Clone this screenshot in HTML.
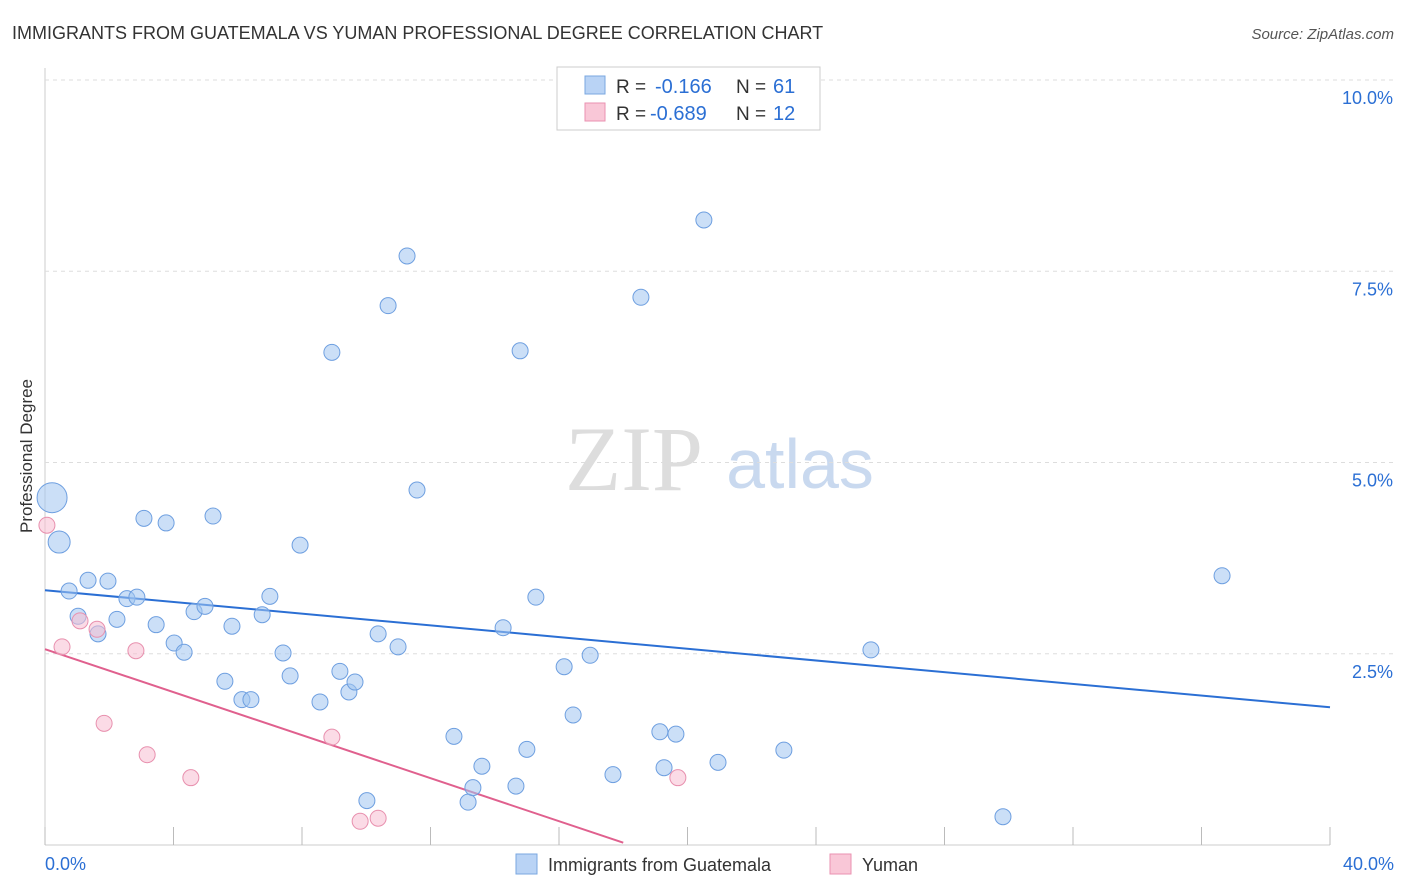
<!DOCTYPE html>
<html><head><meta charset="utf-8">
<style>
body{margin:0;background:#fff;font-family:"Liberation Sans",sans-serif;}
#wrap{position:relative;width:1406px;height:892px;overflow:hidden;}
</style></head>
<body><div id="wrap">
<svg id="svg" width="1406" height="892" xmlns="http://www.w3.org/2000/svg">
<text x="12" y="39" font-size="18" fill="#333">IMMIGRANTS FROM GUATEMALA VS YUMAN PROFESSIONAL DEGREE CORRELATION CHART</text>
<text x="1394" y="39" font-size="15" fill="#555" font-style="italic" text-anchor="end">Source: ZipAtlas.com</text>
<text x="32" y="456" font-size="17" fill="#333" text-anchor="middle" transform="rotate(-90 32 456)">Professional Degree</text>
<g>
<text x="634" y="490" font-size="92" fill="#ddd" font-family="Liberation Serif,serif" text-anchor="middle">ZIP</text>
<text x="800" y="488" font-size="70" fill="#c9d9ef" text-anchor="middle">atlas</text>
</g>
<g id="grid"></g><g id="ticks"></g><g id="lines"></g><g id="pts"></g>
<g>
<rect x="557" y="67" width="263" height="63" fill="#fff" stroke="#ccc"/>
<rect x="585" y="76" width="20" height="18" fill="#b9d3f5" stroke="#7aa7e0"/>
<rect x="585" y="103" width="20" height="18" fill="#f9c7d7" stroke="#ea92b0"/>
<text x="616" y="93" font-size="19" fill="#333">R =</text>
<text x="655" y="93" font-size="20" fill="#2b6fd4">-0.166</text>
<text x="736" y="93" font-size="19" fill="#333">N =</text>
<text x="773" y="93" font-size="20" fill="#2b6fd4">61</text>
<text x="616" y="120" font-size="19" fill="#333">R =</text>
<text x="650" y="120" font-size="20" fill="#2b6fd4">-0.689</text>
<text x="736" y="120" font-size="19" fill="#333">N =</text>
<text x="773" y="120" font-size="20" fill="#2b6fd4">12</text>
</g>
<g>
<rect x="516" y="854" width="21" height="20" fill="#b9d3f5" stroke="#7aa7e0"/>
<text x="548" y="871" font-size="18" fill="#333">Immigrants from Guatemala</text>
<rect x="830" y="854" width="21" height="20" fill="#f9c7d7" stroke="#ea92b0"/>
<text x="862" y="871" font-size="18" fill="#333">Yuman</text>
</g>
</svg>
<script>
const blueX=[0.22,0.44,0.75,1.34,1.96,1.03,1.65,2.24,2.55,2.86,3.08,3.77,3.46,4.02,4.33,4.64,4.98,5.23,5.60,5.82,6.13,6.41,6.76,7.00,7.41,7.63,7.94,8.56,8.93,9.18,9.46,9.65,10.02,10.37,10.68,10.99,11.27,11.58,12.73,13.17,13.32,13.60,14.26,14.66,14.79,15.00,15.28,16.16,16.44,16.97,17.68,18.55,19.14,19.27,19.64,20.51,20.95,23.00,25.71,29.82,36.64];
const blueY=[4.54,3.96,3.32,3.46,3.45,2.99,2.76,2.95,3.22,3.24,4.27,4.21,2.88,2.64,2.52,3.05,3.12,4.30,2.14,2.86,1.90,1.90,3.01,3.25,2.51,2.21,3.92,1.87,6.44,2.27,2.00,2.13,0.58,2.76,7.05,2.59,7.70,4.64,1.42,0.56,0.75,1.03,2.84,0.77,6.46,1.25,3.24,2.33,1.70,2.48,0.92,7.16,1.48,1.01,1.45,8.17,1.08,1.24,2.55,0.37,3.52];
const blueR=[15,11,8,8,8,8,8,8,8,8,8,8,8,8,8,8,8,8,8,8,8,8,8,8,8,8,8,8,8,8,8,8,8,8,8,8,8,8,8,8,8,8,8,8,8,8,8,8,8,8,8,8,8,8,8,8,8,8,8,8,8];
const pinkX=[0.06,0.53,1.09,1.62,1.84,2.83,3.18,4.54,8.93,9.81,10.37,19.70];
const pinkY=[4.18,2.59,2.93,2.82,1.59,2.54,1.18,0.88,1.41,0.31,0.35,0.88];
const blueTrend=[[0,3.33],[40,1.80]];
const pinkTrend=[[0,2.56],[18.0,0.03]];
const yTicks=[2.5,5.0,7.5,10.0];
const xTickVals=[0,4,8,12,16,20,24,28,32,36,40];
const NS="http://www.w3.org/2000/svg";
const sx=v=>45+v*(1330-45)/40;
const sy=v=>845-v*76.5;
function mk(tag,attrs,parent){const e=document.createElementNS(NS,tag);for(const k in attrs)e.setAttribute(k,attrs[k]);document.getElementById(parent).appendChild(e);return e;}
let e=mk('line',{x1:45,y1:68,x2:45,y2:845,stroke:'#ccc'},'grid');


e=mk('line',{x1:45,y1:845,x2:1330,y2:845,stroke:'#ccc'},'grid');


yTicks.forEach(t=>{
 let g=mk('line',{x1:45,y1:sy(t),x2:1394,y2:sy(t),stroke:'#ddd','stroke-dasharray':'4,4'},'grid');
 
 
 let l=mk('text',{x:1393,y:sy(t)+24,'font-size':18,fill:'#2b6fd4','text-anchor':'end'},'ticks');
 l.textContent=t.toFixed(1)+'%';
 
 
});
xTickVals.forEach(t=>{
 let k=mk('line',{x1:sx(t),y1:827,x2:sx(t),y2:845,stroke:'#bbb'},'ticks');
 
 
});
let xl=mk('text',{x:45,y:870,'font-size':18,fill:'#2b6fd4'},'ticks');xl.textContent='0.0%';


let xr=mk('text',{x:1394,y:870,'font-size':18,fill:'#2b6fd4','text-anchor':'end'},'ticks');xr.textContent='40.0%';


blueX.forEach((x,i)=>{
 let c=mk('circle',{cx:sx(x),cy:sy(blueY[i]),r:blueR[i],fill:'rgba(160,196,240,0.55)',stroke:'#6e9fe0','stroke-width':1},'pts');
 
 
});
pinkX.forEach((x,i)=>{
 let c=mk('circle',{cx:sx(x),cy:sy(pinkY[i]),r:8,fill:'rgba(248,190,210,0.55)',stroke:'#e890ae','stroke-width':1},'pts');
 
 
});
let bl=mk('line',{x1:sx(blueTrend[0][0]),y1:sy(blueTrend[0][1]),x2:sx(blueTrend[1][0]),y2:sy(blueTrend[1][1]),stroke:'#2b6fd4','stroke-width':2},'lines');


let pl=mk('line',{x1:sx(pinkTrend[0][0]),y1:sy(pinkTrend[0][1]),x2:sx(pinkTrend[1][0]),y2:sy(pinkTrend[1][1]),stroke:'#e0608e','stroke-width':2},'lines');


</script>
</div></body></html>
